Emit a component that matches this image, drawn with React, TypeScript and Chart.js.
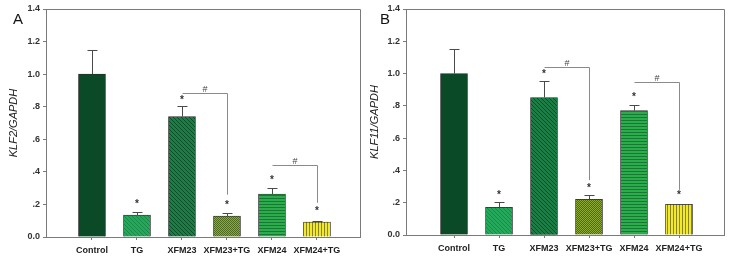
import React, { useEffect, useRef } from "react";
import { Chart, registerables } from "chart.js";

Chart.register(...registerables);

// ---------------- data ----------------
const categories = ["Control", "TG", "XFM23", "XFM23+TG", "XFM24", "XFM24+TG"];
const yTicks = [0, 0.2, 0.4, 0.6, 0.8, 1.0, 1.2, 1.4];

const klf2Values = [1.0, 0.135, 0.739, 0.129, 0.264, 0.092];
const klf2Errors = [0.148, 0.02, 0.067, 0.016, 0.036, 0.005];
const klf2Stars = [null, 0.215, 0.85, 0.21, 0.36, 0.17];
const klf2BracketLevels = [0.882, 0.44];
const klf2BracketDrops = [0.26, 0.21];

const klf11Values = [1.0, 0.171, 0.852, 0.221, 0.77, 0.19];
const klf11Errors = [0.15, 0.033, 0.1, 0.025, 0.035, 0.005];
const klf11Stars = [null, 0.26, 1.01, 0.3, 0.866, 0.26];
const klf11BracketLevels = [1.04, 0.945];
const klf11BracketDrops = [0.34, 0.28];

const bracketFrom = [2, 4];
const bracketTo = [3, 5];

// ---------------- patterns ----------------
function makePattern(kind: string, base: string, line: string): any {
  const c = document.createElement("canvas");
  const ctx = c.getContext("2d")!;
  if (kind === "solid") return base;
  if (kind === "diag" || kind === "diag2") {
    const s = 4;
    c.width = s; c.height = s;
    ctx.fillStyle = base; ctx.fillRect(0, 0, s, s);
    ctx.strokeStyle = line; ctx.lineWidth = 1;
    ctx.beginPath();
    if (kind === "diag") {
      ctx.moveTo(-1, -1); ctx.lineTo(s + 1, s + 1);
      ctx.moveTo(-1, s - 1); ctx.lineTo(1, s + 1);
      ctx.moveTo(s - 1, -1); ctx.lineTo(s + 1, 1);
    } else {
      ctx.moveTo(-1, s + 1); ctx.lineTo(s + 1, -1);
      ctx.moveTo(-1, 1); ctx.lineTo(1, -1);
      ctx.moveTo(s - 1, s + 1); ctx.lineTo(s + 1, s - 1);
    }
    ctx.stroke();
  } else if (kind === "horiz") {
    c.width = 3; c.height = 3;
    ctx.fillStyle = base; ctx.fillRect(0, 0, 3, 3);
    ctx.fillStyle = line; ctx.fillRect(0, 0, 3, 1);
  } else if (kind === "vert") {
    c.width = 3; c.height = 3;
    ctx.fillStyle = base; ctx.fillRect(0, 0, 3, 3);
    ctx.fillStyle = line; ctx.fillRect(0, 0, 1, 3);
  } else if (kind === "check") {
    c.width = 2; c.height = 2;
    ctx.fillStyle = base; ctx.fillRect(0, 0, 2, 2);
    ctx.fillStyle = line; ctx.fillRect(0, 0, 1, 1); ctx.fillRect(1, 1, 1, 1);
  }
  return ctx.createPattern(c, "repeat");
}

function barFills() {
  return [
    makePattern("solid", "#0b4a27", "#0b4a27"),
    makePattern("diag", "#25a85c", "#178a45"),
    makePattern("diag", "#1d7d47", "#0c4d27"),
    makePattern("check", "#8cab3a", "#4d6a1a"),
    makePattern("horiz", "#2eac4d", "#157a31"),
    makePattern("vert", "#f2e92c", "#8a8420"),
  ];
}

const FONT = "'Liberation Sans', Arial, Helvetica, sans-serif";

function fmtTick(v: number) {
  const r = Math.round(v * 10);
  if (r === 0) return "0.0";
  if (r >= 10) return (r / 10).toFixed(1);
  return "." + r;
}

interface PanelCfg {
  letter: string;
  title: string;
  values: number[];
  errors: number[];
  stars: (number | null)[];
  levels: number[];
  drops: number[];
  xMin: number;
  xMax: number;
  yWidth: number;
  xHeight: number;
  padTop: number;
  padRight: number;
  titlePad: number;
  width: number;
  height: number;
}

function Panel({ cfg }: { cfg: PanelCfg }) {
  const ref = useRef<HTMLCanvasElement>(null);
  useEffect(() => {
    const fills = barFills();
    const deco = {
      id: "deco",
      afterDatasetsDraw(chart: any) {
        const ctx = chart.ctx;
        const xs = chart.scales.x;
        const ys = chart.scales.y;
        const a = chart.chartArea;
        ctx.save();
        // box top & right
        ctx.strokeStyle = "#7a7a7a";
        ctx.lineWidth = 1;
        ctx.beginPath();
        ctx.moveTo(a.left, a.top + 0.5);
        ctx.lineTo(a.right + 0.5, a.top + 0.5);
        ctx.lineTo(a.right + 0.5, a.bottom);
        ctx.stroke();
        // error bars
        ctx.strokeStyle = "#4a4a4a";
        cfg.values.forEach((v, i) => {
          const x = Math.round(xs.getPixelForValue(i)) + 0.5;
          const y0 = ys.getPixelForValue(v);
          const y1 = Math.round(ys.getPixelForValue(v + cfg.errors[i])) + 0.5;
          ctx.beginPath();
          ctx.moveTo(x, y0);
          ctx.lineTo(x, y1);
          ctx.moveTo(x - 5, y1);
          ctx.lineTo(x + 5, y1);
          ctx.stroke();
        });
        // stars
        ctx.fillStyle = "#333";
        ctx.font = `bold 10px ${FONT}`;
        ctx.textAlign = "center";
        ctx.textBaseline = "middle";
        cfg.stars.forEach((s, i) => {
          if (s == null) return;
          ctx.fillText("*", xs.getPixelForValue(i), ys.getPixelForValue(s) + 2);
        });
        // brackets
        ctx.strokeStyle = "#8a8a8a";
        ctx.lineWidth = 1;
        cfg.levels.forEach((lv, k) => {
          const xa = Math.round(xs.getPixelForValue(bracketFrom[k])) + 0.5;
          const xb = Math.round(xs.getPixelForValue(bracketTo[k])) + 0.5;
          const yl = Math.round(ys.getPixelForValue(lv)) + 0.5;
          const yd = ys.getPixelForValue(cfg.drops[k]);
          ctx.beginPath();
          ctx.moveTo(xa, yl);
          ctx.lineTo(xb, yl);
          ctx.lineTo(xb, yd);
          ctx.stroke();
          ctx.fillStyle = "#444";
          ctx.font = `9px ${FONT}`;
          ctx.textBaseline = "alphabetic";
          ctx.fillText("#", (xa + xb) / 2, yl - 2);
        });
        ctx.restore();
      },
      afterDraw(chart: any) {
        const ctx = chart.ctx;
        ctx.save();
        ctx.fillStyle = "#111";
        ctx.font = `15px ${FONT}`;
        ctx.textAlign = "left";
        ctx.textBaseline = "alphabetic";
        ctx.fillText(cfg.letter, 13, 24);
        ctx.restore();
      },
    };

    const chart = new Chart(ref.current!, {
      type: "bar",
      data: {
        datasets: [
          {
            data: cfg.values.map((v, i) => ({ x: i, y: v })),
            backgroundColor: fills,
            borderColor: "#2a2a2a",
            borderWidth: 0.8,
            barThickness: 27,
          } as any,
        ],
      },
      options: {
        responsive: false,
        animation: false,
        devicePixelRatio: 1,
        layout: { padding: { top: cfg.padTop, right: cfg.padRight, left: 0, bottom: 0 } },
        plugins: { legend: { display: false }, tooltip: { enabled: false } },
        scales: {
          x: {
            type: "linear",
            offset: false,
            min: cfg.xMin,
            max: cfg.xMax,
            bounds: "data",
            afterBuildTicks: (s: any) => {
              s.ticks = categories.map((_, i) => ({ value: i }));
            },
            afterFit: (s: any) => {
              s.height = cfg.xHeight;
            },
            ticks: {
              autoSkip: false,
              maxRotation: 0,
              padding: 5,
              color: "#222",
              font: { family: FONT, size: 9, weight: "bold" },
              callback: (v: any) => categories[v] ?? "",
            },
            grid: { offset: false, drawOnChartArea: false, drawTicks: true, tickLength: 3, color: "#7a7a7a" },
            border: { display: true, color: "#7a7a7a" },
          } as any,
          y: {
            min: 0,
            max: 1.4,
            afterBuildTicks: (s: any) => {
              s.ticks = yTicks.map((v) => ({ value: v }));
            },
            afterFit: (s: any) => {
              s.width = cfg.yWidth;
            },
            ticks: {
              padding: 3,
              color: "#333",
              font: { family: FONT, size: 9, weight: "bold" },
              callback: (v: any) => fmtTick(Number(v)),
            },
            grid: { drawOnChartArea: false, drawTicks: true, tickLength: 3, color: "#7a7a7a" },
            border: { display: true, color: "#7a7a7a" },
            title: {
              display: true,
              text: cfg.title,
              color: "#222",
              font: { family: FONT, size: 11, style: "italic" },
              padding: { top: cfg.titlePad, bottom: 0 },
            },
          } as any,
        },
      },
      plugins: [deco],
    });
    return () => chart.destroy();
  }, [cfg]);
  return (
    <canvas
      ref={ref}
      width={cfg.width}
      height={cfg.height}
      style={{ width: cfg.width, height: cfg.height, display: "block" }}
    />
  );
}

const leftCfg: PanelCfg = {
  letter: "A",
  title: "KLF2/GAPDH",
  values: klf2Values,
  errors: klf2Errors,
  stars: klf2Stars,
  levels: klf2BracketLevels,
  drops: klf2BracketDrops,
  xMin: -1.022,
  xMax: 5.956,
  yWidth: 46,
  xHeight: 24,
  padTop: 9,
  padRight: 7,
  titlePad: 7,
  width: 367,
  height: 261,
};

const rightCfg: PanelCfg = {
  letter: "B",
  title: "KLF11/GAPDH",
  values: klf11Values,
  errors: klf11Errors,
  stars: klf11Stars,
  levels: klf11BracketLevels,
  drops: klf11BracketDrops,
  xMin: -1.067,
  xMax: 6.0,
  yWidth: 39,
  xHeight: 26,
  padTop: 9,
  padRight: 9,
  titlePad: 1,
  width: 366,
  height: 261,
};

export default function App() {
  return (
    <div
      style={{
        position: "fixed",
        left: 0,
        top: 0,
        width: 733,
        height: 261,
        background: "#fff",
        display: "flex",
      }}
    >
      <Panel cfg={leftCfg} />
      <Panel cfg={rightCfg} />
    </div>
  );
}
